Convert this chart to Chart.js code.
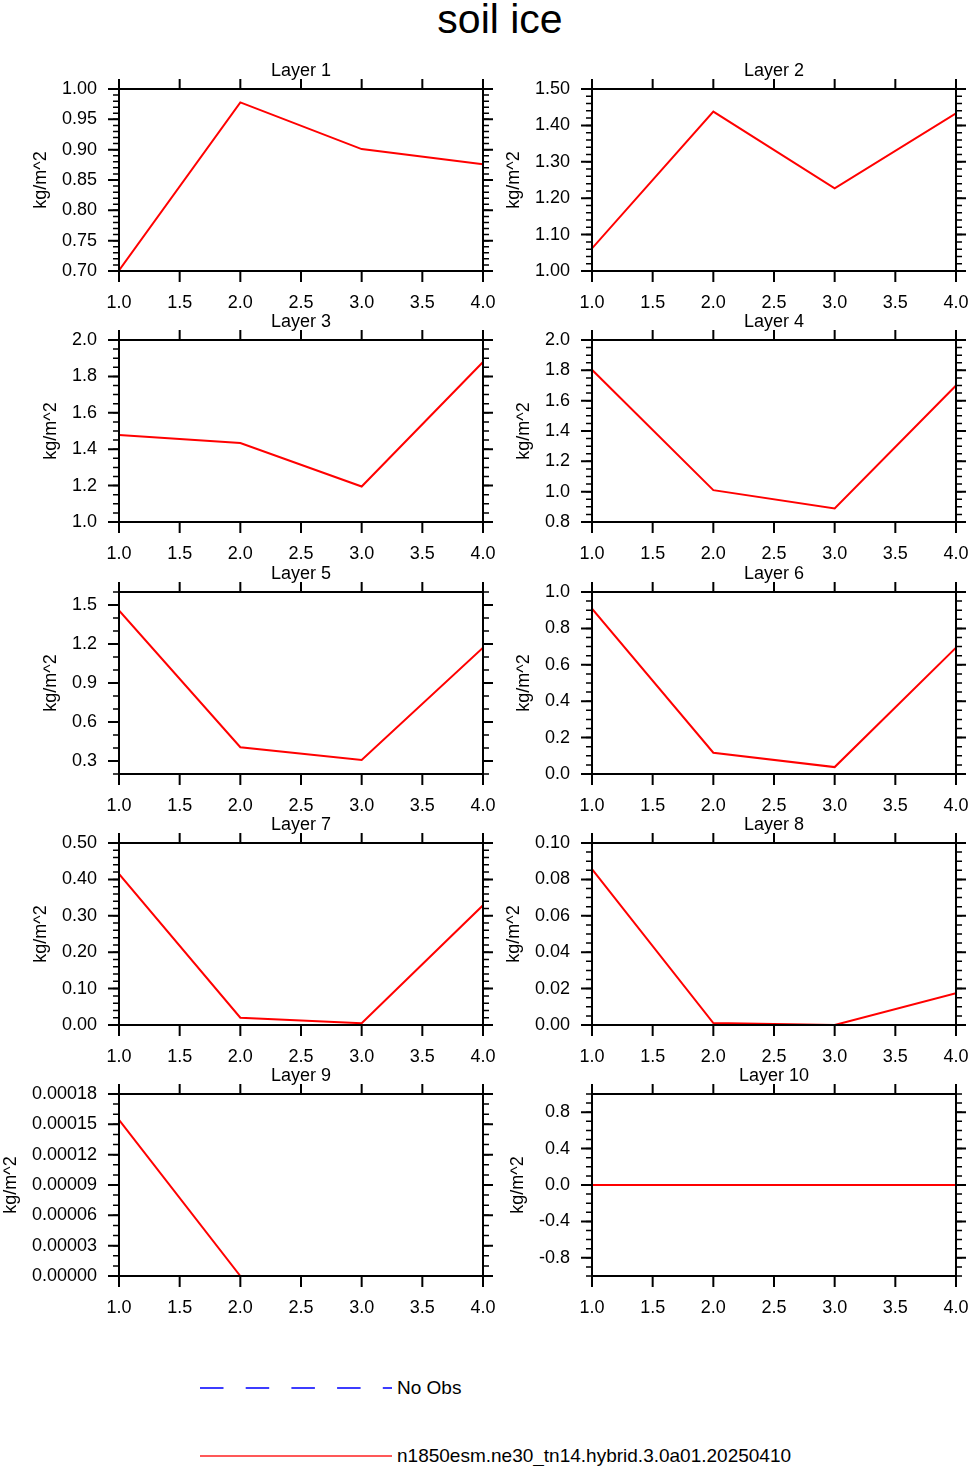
<!DOCTYPE html>
<html lang="en">
<head>
<meta charset="UTF-8">
<meta name="viewport" content="width=device-width, initial-scale=1.0">
<title>soil ice</title>
<script src="https://cdn.jsdelivr.net/npm/chart.js"></script>
<style>
    html, body { margin: 0; padding: 0; background: #fff; }
    body { position: relative; width: 969px; height: 1466px; overflow: hidden;
           font-family: "Liberation Sans", Arial, Helvetica, sans-serif; color: #000; }
    #title { position: absolute; left: 0; top: 0; width: 1000px; text-align: center;
             font-size: 41px; line-height: 38px; }
    .panel { position: absolute; }
    .legend-text { position: absolute; left: 397px; font-size: 19px; line-height: 22px; white-space: nowrap; }
    #legend { position: absolute; left: 0; top: 1360px; }
</style>
</head>
<body>
<div id="title">soil ice</div>

<svg id="legend" width="969" height="106">
    <line x1="200" y1="28" x2="392" y2="28" stroke="#3c3cff" stroke-width="2" stroke-dasharray="23.5 22.2"/>
    <line x1="200" y1="96" x2="392" y2="96" stroke="#ff2020" stroke-width="1.6"/>
</svg>
<div class="legend-text" style="top:1377px">No Obs</div>
<div class="legend-text" style="top:1445px">n1850esm.ne30_tn14.hybrid.3.0a01.20250410</div>

<script>
    // x positions shared by all layers
    const xValues = [1, 2, 3, 4];
    const xTicks = [1.0, 1.5, 2.0, 2.5, 3.0, 3.5, 4.0];

    const layerNames = ['Layer 1', 'Layer 2', 'Layer 3', 'Layer 4', 'Layer 5',
                        'Layer 6', 'Layer 7', 'Layer 8', 'Layer 9', 'Layer 10'];

    // model values (kg/m^2)
    const layer1 = [0.701, 0.978, 0.901, 0.876];
    const layer2 = [1.062, 1.438, 1.227, 1.433];
    const layer3 = [1.478, 1.434, 1.195, 1.879];
    const layer4 = [1.804, 1.010, 0.889, 1.700];
    const layer5 = [1.458, 0.406, 0.308, 1.172];
    const layer6 = [0.908, 0.117, 0.038, 0.694];
    const layer7 = [0.415, 0.020, 0.0046, 0.329];
    const layer8 = [0.0857, 0.0011, 0.0, 0.0174];
    const layer9 = [0.0001545, 0.0, 0.0, 0.0];
    const layer10 = [0.0, 0.0, 0.0, 0.0];

    // y tick labels per layer
    const yTicks1 = [0.70, 0.75, 0.80, 0.85, 0.90, 0.95, 1.00];
    const yTicks2 = [1.00, 1.10, 1.20, 1.30, 1.40, 1.50];
    const yTicks3 = [1.0, 1.2, 1.4, 1.6, 1.8, 2.0];
    const yTicks4 = [0.8, 1.0, 1.2, 1.4, 1.6, 1.8, 2.0];
    const yTicks5 = [0.3, 0.6, 0.9, 1.2, 1.5];
    const yTicks6 = [0.0, 0.2, 0.4, 0.6, 0.8, 1.0];
    const yTicks7 = [0.00, 0.10, 0.20, 0.30, 0.40, 0.50];
    const yTicks8 = [0.00, 0.02, 0.04, 0.06, 0.08, 0.10];
    const yTicks9 = [0.00000, 0.00003, 0.00006, 0.00009, 0.00012, 0.00015, 0.00018];
    const yTicks10 = [-0.8, -0.4, 0.0, 0.4, 0.8];

    const yMin = [0.70, 1.00, 1.0, 0.8, 0.2, 0.0, 0.00, 0.00, 0.0, -1.0];
    const yMax = [1.00, 1.50, 2.0, 2.0, 1.6, 1.0, 0.50, 0.10, 0.00018, 1.0];
    const yDecimals = [2, 2, 1, 1, 1, 1, 2, 2, 5, 1];
    const yMinorStep = [0.01, 0.02, 0.05, 0.05, 0.1, 0.05, 0.02, 0.005, 0.00001, 0.1];

    const layerData = [layer1, layer2, layer3, layer4, layer5, layer6, layer7, layer8, layer9, layer10];
    const layerTicks = [yTicks1, yTicks2, yTicks3, yTicks4, yTicks5, yTicks6, yTicks7, yTicks8, yTicks9, yTicks10];

    // page layout of the plot boxes
    const colLeft = [119, 592];
    const rowTop = [89, 340, 592, 843, 1094];
    const plotW = 364, plotH = 182;
    const offL = 140, offT = 45, canvasW = 570, canvasH = 300;

    const font18 = { family: '"Liberation Sans", Arial, Helvetica, sans-serif', size: 18 };

    // box frame with outward major/minor tick marks on all four sides
    const frameTicks = {
        id: 'frameTicks',
        afterDraw(chart, args, opts) {
            const { ctx, chartArea: a, scales: { x, y } } = chart;
            ctx.save();
            ctx.strokeStyle = '#000';
            ctx.lineWidth = 2;
            ctx.beginPath();
            x.ticks.forEach(t => {
                const px = x.getPixelForValue(t.value);
                ctx.moveTo(px, a.bottom); ctx.lineTo(px, a.bottom + 11);
                ctx.moveTo(px, a.top); ctx.lineTo(px, a.top - 10);
            });
            y.ticks.forEach(t => {
                const py = y.getPixelForValue(t.value);
                ctx.moveTo(a.left, py); ctx.lineTo(a.left - 11, py);
                ctx.moveTo(a.right, py); ctx.lineTo(a.right + 10, py);
            });
            ctx.stroke();
            ctx.lineWidth = 1.5;
            ctx.beginPath();
            const n = Math.round((y.max - y.min) / opts.minor);
            for (let i = 0; i <= n; i++) {
                const py = y.getPixelForValue(y.min + i * opts.minor);
                ctx.moveTo(a.left, py); ctx.lineTo(a.left - 6, py);
                ctx.moveTo(a.right, py); ctx.lineTo(a.right + 6, py);
            }
            ctx.stroke();
            ctx.lineWidth = 2;
            ctx.strokeRect(a.left, a.top, a.right - a.left, a.bottom - a.top);
            ctx.restore();
        }
    };

    // nudge layout padding until the plot box sits where the reference has it
    function fitArea(chart, pad) {
        for (let k = 0; k < 12; k++) {
            const a = chart.chartArea;
            const dl = offL - a.left, dr = a.right - (offL + plotW);
            const dt = offT - a.top, db = a.bottom - (offT + plotH);
            if (Math.abs(dl) + Math.abs(dr) + Math.abs(dt) + Math.abs(db) < 0.2) break;
            pad.left += dl; pad.right += dr; pad.top += dt; pad.bottom += db;
            chart.options.layout.padding = { ...pad };
            chart.update('none');
        }
    }

    layerNames.forEach((name, i) => {
        const canvas = document.createElement('canvas');
        canvas.className = 'panel';
        canvas.width = canvasW;
        canvas.height = canvasH;
        canvas.style.left = (colLeft[i % 2] - offL) + 'px';
        canvas.style.top = (rowTop[Math.floor(i / 2)] - offT) + 'px';
        document.body.appendChild(canvas);

        const pad = { left: 10, right: 50, top: 10, bottom: 10 };
        const ticksY = layerTicks[i];
        const dec = yDecimals[i];

        const chart = new Chart(canvas.getContext('2d'), {
            type: 'line',
            data: {
                datasets: [{
                    label: 'n1850esm.ne30_tn14.hybrid.3.0a01.20250410',
                    data: xValues.map((xv, j) => ({ x: xv, y: layerData[i][j] })),
                    borderColor: '#ff0000',
                    borderWidth: 2,
                    pointRadius: 0,
                    tension: 0,
                    fill: false
                }]
            },
            options: {
                responsive: false,
                animation: false,
                events: [],
                layout: { padding: { ...pad } },
                plugins: {
                    legend: { display: false },
                    tooltip: { enabled: false },
                    title: {
                        display: true,
                        text: name,
                        fullSize: false,
                        color: '#000',
                        font: { ...font18, weight: 'normal' },
                        padding: { top: 0, bottom: 7 }
                    },
                    frameTicks: { minor: yMinorStep[i] }
                },
                scales: {
                    x: {
                        type: 'linear',
                        min: 1,
                        max: 4,
                        afterBuildTicks: s => { s.ticks = xTicks.map(v => ({ value: v })); },
                        grid: { display: false, drawTicks: false },
                        border: { display: false },
                        ticks: {
                            callback: v => v.toFixed(1),
                            color: '#000',
                            font: font18,
                            padding: 21,
                            maxRotation: 0,
                            autoSkip: false
                        }
                    },
                    y: {
                        type: 'linear',
                        min: yMin[i],
                        max: yMax[i],
                        afterBuildTicks: s => { s.ticks = ticksY.map(v => ({ value: v })); },
                        grid: { display: false, drawTicks: false },
                        border: { display: false },
                        ticks: {
                            callback: v => v.toFixed(dec),
                            color: '#000',
                            font: font18,
                            padding: 22,
                            autoSkip: false
                        },
                        title: {
                            display: true,
                            text: 'kg/m^2',
                            color: '#000',
                            font: font18,
                            padding: { top: 0, bottom: -12 }
                        }
                    }
                }
            },
            plugins: [frameTicks]
        });
        fitArea(chart, pad);
    });
</script>
</body>
</html>
